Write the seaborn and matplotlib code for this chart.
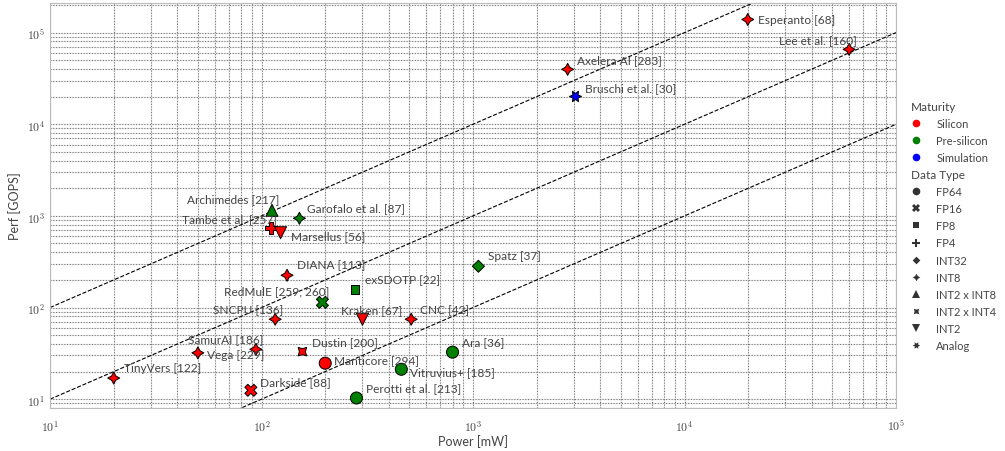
import numpy as np
import pandas as pd
import matplotlib
matplotlib.use('Agg')
import matplotlib.pyplot as plt
import matplotlib.ticker as mticker
from matplotlib.offsetbox import TextArea
import seaborn as sns

names = ['TinyVers [122]', 'Vega [229]', 'SamurAI [186]', 'Darkside [88]', 'SNCPU [136]',
         'Dustin [200]', 'Manticore [294]', 'Kraken [67]', 'CNC [42]', 'Perotti et al. [213]',
         'Vitruvius+ [185]', 'Ara [36]', 'Spatz [37]', 'exSDOTP [22]', 'RedMulE [259, 260]',
         'DIANA [113]', 'Tambe et al. [257]', 'Marsellus [56]', 'Archimedes [217]',
         'Garofalo et al. [87]', 'Axelera AI [283]', 'Bruschi et al. [30]', 'Esperanto [68]',
         'Lee et al. [160]']
power = [20, 50, 94, 89, 116, 156, 200, 300, 510, 281,
         458, 800, 1060, 277, 194, 132, 111, 123, 112,
         151, 2800, 3050, 19900, 60000]
perf = [17, 32, 35, 12.5, 74.5, 33, 24.7, 74.5, 74.5, 10.3,
        21.2, 32.6, 282, 158, 114, 225, 733, 655, 1150,
        942, 39700, 20100, 139000, 65600]
maturity = ['Silicon', 'Silicon', 'Silicon', 'Silicon', 'Silicon',
            'Silicon', 'Silicon', 'Silicon', 'Silicon', 'Pre-silicon',
            'Pre-silicon', 'Pre-silicon', 'Pre-silicon', 'Pre-silicon', 'Pre-silicon',
            'Silicon', 'Silicon', 'Silicon', 'Pre-silicon',
            'Pre-silicon', 'Silicon', 'Simulation', 'Silicon', 'Silicon']
dtype = ['INT8', 'INT8', 'INT8', 'FP16', 'INT8',
         'INT2 x INT4', 'FP64', 'INT2', 'INT8', 'FP64',
         'FP64', 'FP64', 'INT32', 'FP8', 'FP16',
         'INT8', 'FP4', 'INT2', 'INT2 x INT8',
         'INT8', 'INT8', 'Analog', 'INT8', 'INT8']

maturity_order = ['Silicon', 'Pre-silicon', 'Simulation']
dtype_order = ['FP64', 'FP16', 'FP8', 'FP4', 'INT32', 'INT8',
               'INT2 x INT8', 'INT2 x INT4', 'INT2', 'Analog']
efficiency = [10, 1, 0.1]  # GOPS/mW reference lines

# label placement: (dx px, dy px, ha)
label_pos = {
    'TinyVers [122]': (10, 11, 'left'), 'Vega [229]': (9, -2, 'left'),
    'SamurAI [186]': (8, 10, 'right'), 'Darkside [88]': (9, 9, 'left'),
    'SNCPU [136]': (8, 10, 'right'), 'Dustin [200]': (10, 10, 'left'),
    'Manticore [294]': (9, 4, 'left'), 'Kraken [67]': (9, 10, 'center'),
    'CNC [42]': (9, 10, 'left'), 'Perotti et al. [213]': (10, 10, 'left'),
    'Vitruvius+ [185]': (9, -2, 'left'), 'Ara [36]': (9, 10, 'left'),
    'Spatz [37]': (10, 11, 'left'), 'exSDOTP [22]': (10, 10, 'left'),
    'RedMulE [259, 260]': (7, 12, 'right'), 'DIANA [113]': (10, 11, 'left'),
    'Tambe et al. [257]': (6, 10, 'right'), 'Marsellus [56]': (10, -3, 'left'),
    'Archimedes [217]': (7, 12, 'right'), 'Garofalo et al. [87]': (8, 11, 'left'),
    'Axelera AI [283]': (9, 10, 'left'), 'Bruschi et al. [30]': (10, 9, 'left'),
    'Esperanto [68]': (10, 0, 'left'), 'Lee et al. [160]': (8, 10, 'right'),
}

df = pd.DataFrame({'Name': names, 'Power': power, 'Perf': perf,
                   'Maturity': maturity, 'Data Type': dtype})

sns.set_style('white')
plt.rcParams['font.family'] = ['Lato', 'DejaVu Sans']
plt.rcParams['mathtext.fontset'] = 'cm'

fig = plt.figure(figsize=(10.05, 4.52), dpi=100)
ax = fig.add_axes([0.0498, 0.095, 0.8418, 0.896])
ax.set_xscale('log')
ax.set_yscale('log')

xs = np.array([10, 1e5])
for e in efficiency:
    ax.plot(xs, e * xs, color='black', linestyle='--', linewidth=0.8, zorder=2)

sns.scatterplot(data=df, x='Power', y='Perf', hue='Maturity', style='Data Type',
                hue_order=maturity_order, style_order=dtype_order,
                palette=['red', 'green', 'blue'], s=75, edgecolor='black',
                linewidth=0.7, ax=ax, zorder=3)

for _, r in df.iterrows():
    dx, dy, ha = label_pos[r['Name']]
    ax.annotate(r['Name'], (r['Power'], r['Perf']), xytext=(dx, dy),
                textcoords='offset pixels', ha=ha, va='center',
                fontsize=8.6, color='#444444', zorder=4)

ax.set_xlim(10, 1e5)
ax.set_ylim(8, 2.1e5)
ax.grid(True, which='both', linestyle='-', color='#e3e3e3', linewidth=0.9)
ax.set_axisbelow(True)
# dotted overlay on the grid
for v in ax.get_xticks(minor=True).tolist() + ax.get_xticks().tolist():
    if 10 <= v <= 1e5:
        ax.axvline(v, color='#777777', linestyle=':', linewidth=0.75, zorder=1)
for v in ax.get_yticks(minor=True).tolist() + ax.get_yticks().tolist():
    if 8 <= v <= 2.1e5:
        ax.axhline(v, color='#777777', linestyle=':', linewidth=0.75, zorder=1)
for sp in ax.spines.values():
    sp.set_color('#bbbbbb')
fmt = mticker.FuncFormatter(lambda v, p: r'$10^{%d}$' % round(np.log10(v)))
ax.xaxis.set_major_formatter(fmt)
ax.yaxis.set_major_formatter(fmt)
ax.tick_params(axis='both', which='both', length=0, labelsize=8.5, colors='#444444')
ax.tick_params(axis='x', pad=7)
ax.set_xlabel('Power [mW]', fontsize=9, color='#444444', labelpad=1)
ax.set_ylabel('Perf [GOPS]', fontsize=9, color='#444444')

sns.move_legend(ax, 'center left', bbox_to_anchor=(1.006, 0.45), frameon=False,
                fontsize=8, title=None, labelcolor='#444444',
                handlelength=0.9, handletextpad=1.35, labelspacing=0.55)
leg = ax.get_legend()
for h in leg.legend_handles:
    if h is not None:
        h.set_markeredgewidth(0)
        h.set_markersize(5.5)
titles = ['Maturity', 'Data Type']
for col in leg._legend_handle_box.get_children():
    for row in col.get_children():
        txt = [c for c in row.get_children() if isinstance(c, TextArea)]
        if txt and txt[0].get_text() in titles:
            txt[0]._text.set_fontsize(8.5)
            row._children = txt

fig.savefig('out.png', dpi=100)
